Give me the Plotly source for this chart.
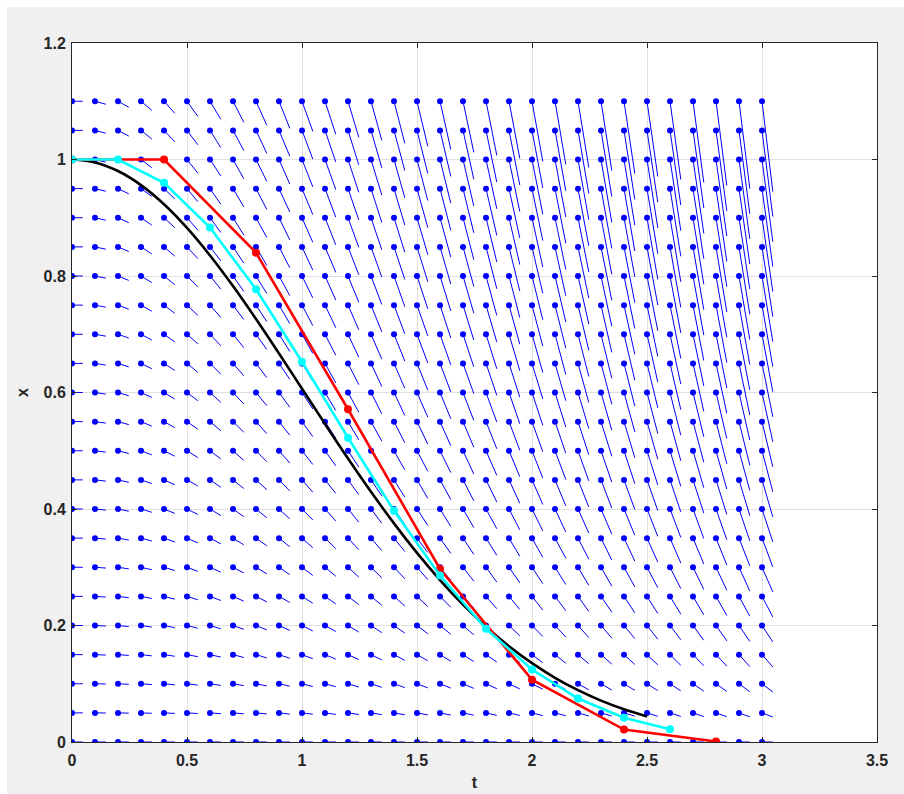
import plotly.graph_objects as go

# Direction field grid for dx/dt = -t*x
T_GRID = [0.0, 0.1, 0.2, 0.3, 0.4, 0.5, 0.6, 0.7, 0.8, 0.9, 1.0, 1.1, 1.2, 1.3, 1.4, 1.5,
          1.6, 1.7, 1.8, 1.9, 2.0, 2.1, 2.2, 2.3, 2.4, 2.5, 2.6, 2.7, 2.8, 2.9, 3.0]
X_GRID = [0.0, 0.05, 0.1, 0.15, 0.2, 0.25, 0.3, 0.35, 0.4, 0.45, 0.5, 0.55, 0.6, 0.65,
          0.7, 0.75, 0.8, 0.85, 0.9, 0.95, 1.0, 1.05, 1.1]

# Euler method, step 0.4
T_EULER_04 = [0.0, 0.4, 0.8, 1.2, 1.6, 2.0, 2.4, 2.8]
X_EULER_04 = [1.0, 1.0, 0.84, 0.5712, 0.2970, 0.1069, 0.0214, 0.0009]

# Euler method, step 0.2
T_EULER_02 = [0.0, 0.2, 0.4, 0.6, 0.8, 1.0, 1.2, 1.4, 1.6, 1.8, 2.0, 2.2, 2.4, 2.6]
X_EULER_02 = [1.0, 1.0, 0.96, 0.8832, 0.7772, 0.6529, 0.5223, 0.3969, 0.2858,
              0.1943, 0.1244, 0.0746, 0.0418, 0.0217]

# Exact solution
T_EXACT = [0.0, 0.1, 0.2, 0.3, 0.4, 0.5, 0.6, 0.7, 0.8, 0.9, 1.0, 1.1, 1.2, 1.3, 1.4,
           1.5, 1.6, 1.7, 1.8, 1.9, 2.0, 2.1, 2.2, 2.3, 2.4, 2.5]
X_EXACT = [1.0, 0.99501, 0.98020, 0.95600, 0.92312, 0.88250, 0.83527, 0.78270,
           0.72615, 0.66698, 0.60653, 0.54607, 0.48675, 0.42956, 0.37531, 0.32465,
           0.27804, 0.23575, 0.19790, 0.16447, 0.13534, 0.11025, 0.08892, 0.07101,
           0.05613, 0.04394]

X_TICKS = [0, 0.5, 1, 1.5, 2, 2.5, 3, 3.5]
Y_TICKS = [0, 0.2, 0.4, 0.6, 0.8, 1, 1.2]

QUIVER_SCALE = 0.047


def slope(t, x):
    return -t * x


# Build direction-field segments
seg_t, seg_x, dot_t, dot_x = [], [], [], []
for t in T_GRID:
    for x in X_GRID:
        seg_t += [t, t + QUIVER_SCALE, None]
        seg_x += [x, x + QUIVER_SCALE * slope(t, x), None]
        dot_t.append(t)
        dot_x.append(x)

fig = go.Figure()

fig.add_trace(go.Scatter(x=seg_t, y=seg_x, mode="lines",
                         line=dict(color="#0000ff", width=1.0),
                         hoverinfo="skip", showlegend=False))
fig.add_trace(go.Scatter(x=dot_t, y=dot_x, mode="markers",
                         marker=dict(color="#0000ff", size=6),
                         showlegend=False))

fig.add_trace(go.Scatter(x=T_EXACT, y=X_EXACT, mode="lines",
                         line=dict(color="black", width=2.6, shape="spline"),
                         showlegend=False))
fig.add_trace(go.Scatter(x=T_EULER_04, y=X_EULER_04, mode="lines+markers",
                         line=dict(color="#ff0000", width=2.6),
                         marker=dict(color="#ff0000", size=8),
                         showlegend=False))
fig.add_trace(go.Scatter(x=T_EULER_02, y=X_EULER_02, mode="lines+markers",
                         line=dict(color="#00ffff", width=2.6),
                         marker=dict(color="#00ffff", size=8),
                         showlegend=False))

tick_font = dict(family="Liberation Sans, Arial, sans-serif", size=16,
                 color="#262626", weight="bold")
axis_common = dict(
    showgrid=True, gridcolor="#e0e0e0", gridwidth=1,
    zeroline=False, showline=True, linecolor="#262626", linewidth=1,
    mirror="ticks", ticks="inside", ticklen=5, tickcolor="#262626",
    tickfont=tick_font, automargin=False,
)

fig.update_layout(
    width=904, height=794,
    margin=dict(l=72, r=27, t=43, b=52),
    paper_bgcolor="#f0f0f0", plot_bgcolor="white",
    xaxis=dict(range=[0, 3.5], tickvals=X_TICKS,
               ticktext=["0", "0.5", "1", "1.5", "2", "2.5", "3", "3.5"],
               ticklabelstandoff=4,
               title=dict(text="t", font=tick_font, standoff=8),
               **axis_common),
    yaxis=dict(range=[0, 1.2], tickvals=Y_TICKS,
               ticktext=["0", "0.2", "0.4", "0.6", "0.8", "1", "1.2"],
               ticklabelstandoff=2,
               title=dict(text="x", font=tick_font, standoff=10),
               **axis_common),
    shapes=[
        dict(type="rect", xref="paper", yref="paper", x0=-0.2, x1=1.2,
             y0=1.0515, y1=1.2, fillcolor="white", line=dict(width=0)),
        dict(type="rect", xref="paper", yref="paper", x0=-0.2, x1=-0.0807,
             y0=-0.2, y1=1.2, fillcolor="white", line=dict(width=0)),
    ],
)

fig.write_html("out.html")
